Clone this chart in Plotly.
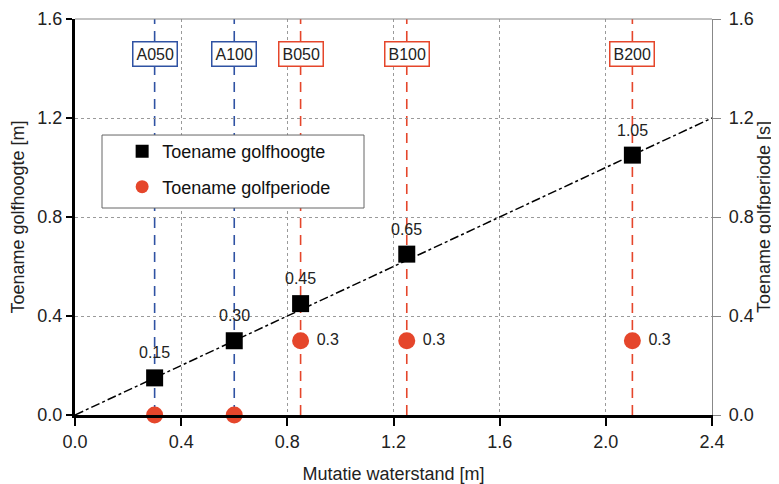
import plotly.graph_objects as go

# ---- data ----
locations = ["A050", "A100", "B050", "B100", "B200"]
waterstand = [0.30, 0.60, 0.85, 1.25, 2.10]
golfhoogte = [0.15, 0.30, 0.45, 0.65, 1.05]
golfhoogte_labels = ["0.15", "0.30", "0.45", "0.65", "1.05"]
golfperiode = [0.0, 0.0, 0.3, 0.3, 0.3]
golfperiode_labels = ["", "", "0.3", "0.3", "0.3"]
loc_series = ["A", "A", "B", "B", "B"]
trend_x = [0.0, 2.4]
trend_y = [0.0, 1.2]
x_ticks = [0.0, 0.4, 0.8, 1.2, 1.6, 2.0, 2.4]
y_ticks = [0.0, 0.4, 0.8, 1.2, 1.6]

BLUE = "#2f52a3"
RED = "#e5462b"
GRID = "#9a9a9a"
FONT = "Liberation Sans, Arial, sans-serif"

fig = go.Figure()

# trend line
fig.add_trace(go.Scatter(x=trend_x, y=trend_y, mode="lines",
                         line=dict(color="black", width=1.5, dash="dashdot"),
                         showlegend=False, hoverinfo="skip", cliponaxis=False))

fig.add_trace(go.Scatter(x=waterstand, y=golfhoogte, mode="markers",
                         marker=dict(symbol="square", size=17, color="black"),
                         name="Toename golfhoogte", showlegend=False,
                         cliponaxis=False))

fig.add_trace(go.Scatter(x=waterstand, y=golfperiode, mode="markers+text",
                         marker=dict(symbol="circle", size=17, color=RED),
                         text=[" " + t if t else "" for t in golfperiode_labels],
                         textposition="middle right",
                         textfont=dict(size=16, color="#222", family=FONT),
                         name="Toename golfperiode", showlegend=False,
                         yaxis="y2", cliponaxis=False))

# legend entries (smaller symbols, as in the reference legend)
fig.add_trace(go.Scatter(x=[None], y=[None], mode="markers",
                         marker=dict(symbol="square", size=13, color="black"),
                         name="Toename golfhoogte", legendgroup="h"))
fig.add_trace(go.Scatter(x=[None], y=[None], mode="markers",
                         marker=dict(symbol="circle", size=13, color=RED),
                         name="Toename golfperiode", legendgroup="p"))

shapes = []
annotations = []
for loc, xv, ser in zip(locations, waterstand, loc_series):
    col = BLUE if ser == "A" else RED
    shapes.append(dict(type="line", xref="x", yref="y", x0=xv, x1=xv, y0=0, y1=1.6,
                       line=dict(color=col, width=1.6, dash="10px,7px"), layer="below"))
    annotations.append(dict(x=xv, y=1.46, xref="x", yref="y", text=loc, showarrow=False,
                            font=dict(size=16, color="#222", family=FONT),
                            bgcolor="white", bordercolor=col, borderwidth=1.5, borderpad=3))

for xv, yv, lab in zip(waterstand, golfhoogte, golfhoogte_labels):
    annotations.append(dict(x=xv, y=yv, xref="x", yref="y", text=lab, showarrow=False,
                            yshift=25, font=dict(size=16, color="#222", family=FONT)))

# top border
shapes.append(dict(type="line", xref="paper", yref="paper", x0=0, x1=1, y0=1, y1=1,
                   line=dict(color="#888", width=1.2)))
# legend frame
shapes.append(dict(type="rect", xref="paper", yref="paper", x0=0.0424, x1=0.4537,
                   y0=0.5227, y1=0.707, fillcolor="white",
                   line=dict(color="#666", width=1), layer="above"))

fig.update_layout(
    width=771, height=476,
    margin=dict(l=67, r=67, t=11, b=69, autoexpand=False),
    paper_bgcolor="white", plot_bgcolor="white",
    font=dict(family=FONT, size=18, color="#222"),
    shapes=shapes, annotations=annotations,
    legend=dict(x=0.074, y=0.712, xanchor="left", yanchor="top",
                bgcolor="rgba(0,0,0,0)", borderwidth=0,
                font=dict(size=18, family=FONT, color="#111"),
                traceorder="grouped", tracegroupgap=9, itemwidth=30),
    xaxis=dict(range=[0, 2.4], tickvals=x_ticks, ticktext=[f"{v:.1f}" for v in x_ticks],
               showgrid=True, gridcolor=GRID, griddash="dot", gridwidth=1,
               showline=True, linecolor="black", linewidth=3,
               ticks="outside", ticklen=8, tickwidth=2, tickcolor="black",
               zeroline=False, tickfont=dict(size=18), automargin=False,
               title=dict(text="Mutatie waterstand [m]", font=dict(size=18), standoff=25)),
    yaxis=dict(range=[0, 1.6], tickvals=y_ticks, ticktext=[f"{v:.1f}" for v in y_ticks],
               showgrid=True, gridcolor=GRID, griddash="dot", gridwidth=1,
               showline=True, linecolor="black", linewidth=3,
               ticks="outside", ticklen=6, tickwidth=2, tickcolor="black",
               zeroline=False, tickfont=dict(size=18), automargin=False,
               title=dict(text="Toename golfhoogte [m]", font=dict(size=18), standoff=10)),
    yaxis2=dict(range=[0, 1.6], tickvals=y_ticks, ticktext=[f"{v:.1f}" for v in y_ticks],
                overlaying="y", side="right", showgrid=False,
                showline=True, linecolor="#888", linewidth=1.2,
                ticks="outside", ticklen=8, tickwidth=1, tickcolor="#888",
                ticklabelstandoff=4, automargin=False,
                zeroline=False, tickfont=dict(size=18),
                title=dict(text="Toename golfperiode [s]", font=dict(size=18), standoff=1)),
)

fig.write_html("out.html")
